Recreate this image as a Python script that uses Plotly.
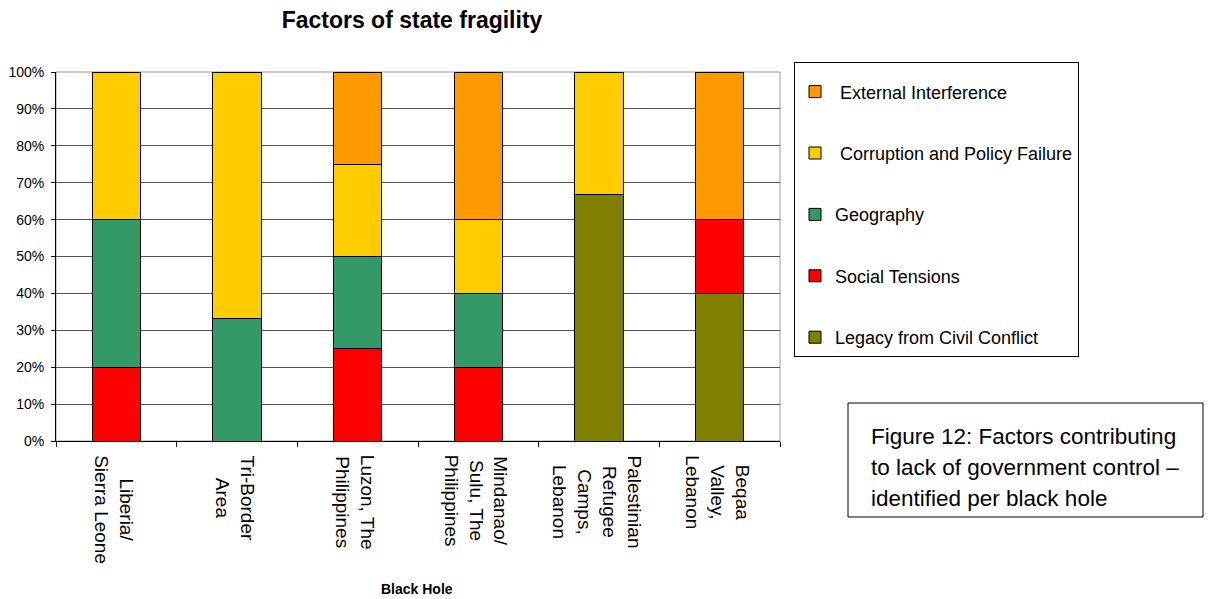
import plotly.graph_objects as go

categories = ["Liberia/<br>Sierra Leone", "Tri-Border<br>Area", "Luzon, The<br>Philippines",
              "Mindanao/<br>Sulu, The<br>Philippines", "Palestinian<br>Refugee<br>Camps,<br>Lebanon",
              "Beqaa<br>Valley,<br>Lebanon"]
legacy = [0, 0, 0, 0, 66.7, 40]
social = [20, 0, 25, 20, 0, 20]
geography = [40, 33.3, 25, 20, 0, 0]
corruption = [40, 66.7, 25, 20, 33.3, 0]
external = [0, 0, 25, 40, 0, 40]
ytick_vals = list(range(0, 101, 10))
ytick_text = [f"{v}%" for v in ytick_vals]
caption_lines = ["Figure 12: Factors contributing", "to lack of government control –",
                 "identified per black hole"]

series = [
    ("Legacy from Civil Conflict", legacy, "#808000"),
    ("Social Tensions", social, "#FF0000"),
    ("Geography", geography, "#339966"),
    (" Corruption and Policy Failure", corruption, "#FFCC00"),
    (" External Interference", external, "#FF9900"),
]

fig = go.Figure()
n = len(series)
for i, (name, vals, col) in enumerate(series):
    fig.add_trace(go.Bar(x=categories, y=vals, name=name, legendgroup=str(i),
                         legendrank=n - i,
                         marker=dict(color=col, line=dict(color="black", width=1))))

L, R, T, B = 56, 780, 72, 441
W, H = 1217, 599
FONT = "Arial, 'Liberation Sans', sans-serif"
fig.update_layout(
    width=W, height=H, barmode="stack", bargap=0.6,
    margin=dict(l=L, r=W - R, t=T, b=H - B, autoexpand=False),
    paper_bgcolor="white", plot_bgcolor="white",
    font=dict(family=FONT, color="black"),
    title=dict(text="<b>Factors of state fragility</b>", x=412 / W, xanchor="center",
               y=1 - 20 / H, yanchor="middle", font=dict(size=23)),
    legend=dict(x=(794 - L) / (R - L), xanchor="left", y=(B - 62) / (B - T), yanchor="top",
                bordercolor="black", borderwidth=1, font=dict(size=18),
                traceorder="grouped", tracegroupgap=35, itemwidth=30, maxheight=500,
                title=dict(text=" ", font=dict(size=8))),
    showlegend=True,
)
fig.update_yaxes(range=[0, 100], tickmode="array", tickvals=ytick_vals, ticktext=ytick_text,
                 showgrid=True, gridcolor="#555555", gridwidth=1, showline=True, linecolor="black",
                 ticks="outside", ticklen=4, tickcolor="black", tickfont=dict(size=14),
                 ticklabelstandoff=4, zeroline=False, automargin=False)
fig.update_xaxes(showline=True, linecolor="black", ticks="outside", ticklen=5, tickcolor="black",
                 tickson="boundaries", showticklabels=False, automargin=False)
fig.add_shape(type="rect", xref="paper", yref="paper", x0=0, x1=1, y0=0, y1=1,
              line=dict(color="#999999", width=1), layer="below")
for c in categories:
    fig.add_annotation(text=c, x=c, xref="x", y=0, yref="paper", textangle=90,
                       xanchor="center", yanchor="top", yshift=-12, xshift=-2,
                       align="center", showarrow=False, font=dict(size=19))
fig.add_annotation(text="<b>Black Hole</b>", xref="paper", yref="paper",
                   x=(417 - L) / (R - L), y=-(589 - B) / (B - T), showarrow=False,
                   font=dict(size=14), xanchor="center", yanchor="middle")
# caption box
fig.add_shape(type="rect", xref="paper", yref="paper",
              x0=(848 - L) / (R - L), x1=(1203 - L) / (R - L),
              y0=(B - 517) / (B - T), y1=(B - 403) / (B - T),
              line=dict(color="black", width=1))
for j, line in enumerate(caption_lines):
    fig.add_annotation(text=line, xref="paper", yref="paper", x=(869 - L) / (R - L),
                       y=(B - (436 + 31 * j)) / (B - T), xanchor="left", yanchor="middle",
                       showarrow=False, font=dict(size=22.5))
fig.write_html("out.html")
